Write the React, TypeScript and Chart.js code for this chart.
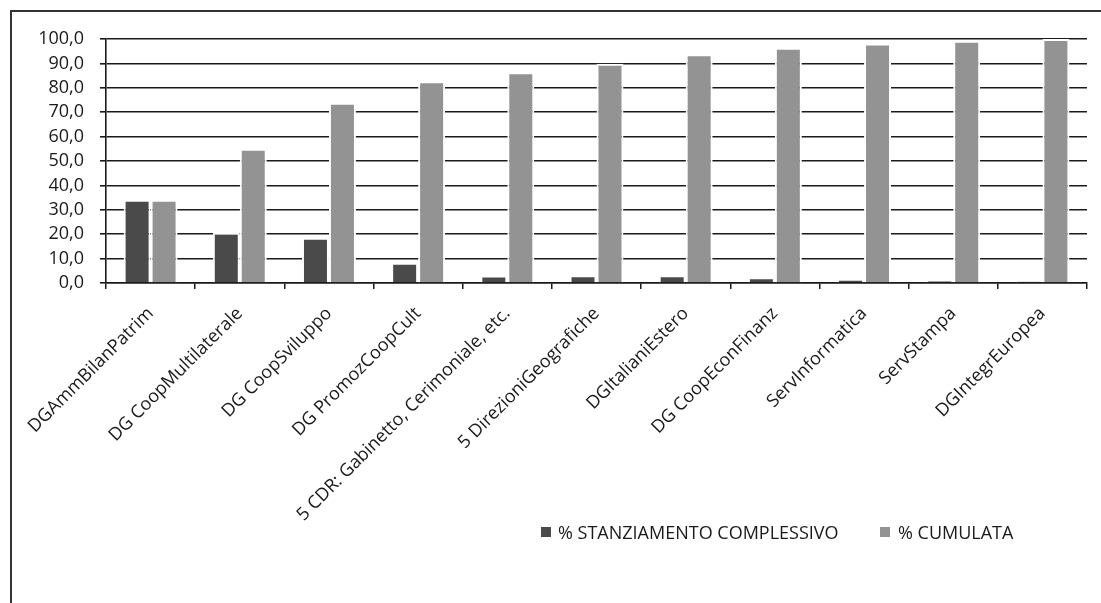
import React, { useEffect, useRef } from "react";
import { Chart, registerables } from "chart.js";

Chart.register(...registerables);

const categories = [
  "DGAmmBilanPatrim",
  "DG CoopMultilaterale",
  "DG CoopSviluppo",
  "DG PromozCoopCult",
  "5 CDR: Gabinetto, Cerimoniale, etc.",
  "5 DirezioniGeografiche",
  "DGItalianiEstero",
  "DG CoopEconFinanz",
  "ServInformatica",
  "ServStampa",
  "DGIntegrEuropea",
];

const stanziamento = [34.1, 20.6, 18.5, 8.3, 3.1, 3.2, 3.2, 2.4, 1.5, 0.9, 0.6];
const cumulata = [34.1, 55.0, 73.9, 82.7, 86.4, 89.9, 93.8, 96.4, 98.2, 99.3, 100.0];

const seriesNames = ["% STANZIAMENTO COMPLESSIVO", "% CUMULATA"];
const yTicks = { min: 0, max: 100, step: 10 };

const DARK = "#4a4a4a";
const LIGHT = "#939393";
const INK = "#1a1a1a";
const FONT = "'Open Sans', 'Noto Sans', sans-serif";

export default function App() {
  const ref = useRef<HTMLCanvasElement | null>(null);

  useEffect(() => {
    if (!ref.current) return;
    const chart = new Chart(ref.current, {
      type: "bar",
      data: {
        labels: categories,
        datasets: [
          {
            label: seriesNames[0],
            data: stanziamento,
            backgroundColor: DARK,
            borderColor: "#ffffff",
            borderWidth: 2,
            borderSkipped: "start",
          },
          {
            label: seriesNames[1],
            data: cumulata,
            backgroundColor: LIGHT,
            borderColor: "#ffffff",
            borderWidth: 2,
            borderSkipped: "start",
          },
        ],
      },
      options: {
        animation: false,
        responsive: false,
        maintainAspectRatio: false,
        layout: { padding: { left: 0, top: 39, right: 14, bottom: 0 } },
        datasets: {
          bar: { categoryPercentage: 0.605, barPercentage: 1.0 },
        },
        plugins: {
          legend: { display: false },
          tooltip: { enabled: false },
        },
        scales: {
          x: {
            afterFit: (s: any) => {
              s.height = 320;
            },
            grid: {
              offset: true,
              drawOnChartArea: false,
              drawTicks: true,
              tickLength: 6,
              color: INK,
              lineWidth: 1.5,
            },
            border: { display: true, color: INK, width: 1.5 },
            ticks: {
              autoSkip: false,
              minRotation: 45,
              maxRotation: 45,
              padding: 14,
              labelOffset: 0,
              color: INK,
              font: { family: FONT, size: 18 },
            },
          },
          y: {
            min: yTicks.min,
            max: yTicks.max,
            afterFit: (s: any) => {
              s.width = 106;
            },
            grid: {
              color: INK,
              lineWidth: 1.6,
              tickLength: 6,
            },
            border: { display: true, color: INK, width: 1.6 },
            ticks: {
              stepSize: yTicks.step,
              autoSkip: false,
              padding: 16,
              color: INK,
              font: { family: FONT, size: 18, lineHeight: 1 },
              callback: (v: any) => Number(v).toFixed(1).replace(".", ","),
            },
          },
        },
      },
    });
    return () => chart.destroy();
  }, []);

  const legendItem = (x: number, textX: number, color: string, text: string) => (
    <React.Fragment key={text}>
      <div
        style={{
          position: "absolute",
          left: x,
          top: 527,
          width: 10,
          height: 10,
          background: color,
        }}
      />
      <div
        style={{
          position: "absolute",
          left: textX,
          top: 532,
          transform: "translateY(-50%)",
          fontFamily: FONT,
          fontSize: 18,
          color: INK,
          whiteSpace: "nowrap",
          lineHeight: 1,
        }}
      >
        {text}
      </div>
    </React.Fragment>
  );

  return (
    <div
      style={{
        position: "fixed",
        left: 0,
        top: 0,
        width: 1101,
        height: 603,
        background: "#ffffff",
        overflow: "hidden",
      }}
    >
      <div
        style={{
          position: "absolute",
          left: 10,
          top: 10,
          width: 1200,
          height: 700,
          border: "2px solid #333",
          boxSizing: "border-box",
        }}
      />
      <canvas
        ref={ref}
        width={1101}
        height={603}
        style={{ position: "absolute", left: 0, top: 0, width: 1101, height: 603 }}
      />
      {legendItem(541, 558, DARK, seriesNames[0])}
      {legendItem(880, 898, LIGHT, seriesNames[1])}
    </div>
  );
}
